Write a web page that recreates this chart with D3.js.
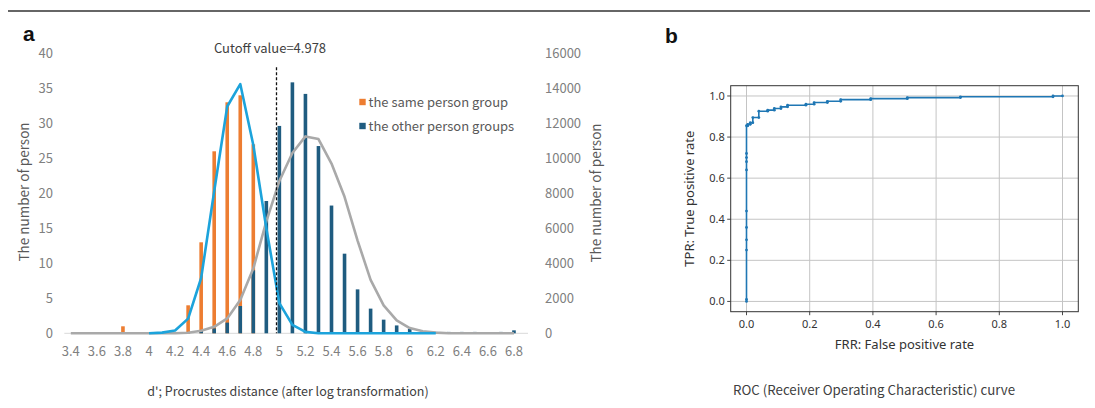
<!DOCTYPE html>
<html><head><meta charset="utf-8">
<script src="https://cdn.jsdelivr.net/npm/d3@7"></script>
<style>body{margin:0;background:#fff} svg{display:block}</style>
</head><body><svg id="c" width="1095" height="408"></svg>
<script>
// ---------- data (panel a) ----------
const categories = ["3.4","3.5","3.6","3.7","3.8","3.9","4","4.1","4.2","4.3","4.4","4.5","4.6","4.7","4.8","4.9","5","5.1","5.2","5.3","5.4","5.5","5.6","5.7","5.8","5.9","6","6.1","6.2","6.3","6.4","6.5","6.6","6.7","6.8"];
const sameGroup = [0,0,0,0,1,0,0,0,0,4,13,26,33,34,27,0,0,0,0,0,0,0,0,0,0,0,0,0,0,0,0,0,0,0,0];
const otherGroups = [0,0,0,0,0,0,0,0,0,40,150,280,610,1560,3600,7560,11850,14340,13680,10700,7300,4550,2510,1410,780,450,250,130,80,80,80,80,0,80,170];
const sameFit = [null,null,null,null,null,null,0,0.1,0.4,2.1,7.9,20.3,32.4,35.6,26.9,15,4.3,1.2,0.2,0,0,0,0,0,0,0,0,0,0,null,null,null,null,null,null];
const otherFit = [0,0,0,0,0,0,0,0,0,30,150,370,850,1900,3700,6400,8700,10300,11250,11100,9700,7800,5300,3050,1600,740,300,120,40,0,0,0,0,0,0];
const leftTicks = [0,5,10,15,20,25,30,35,40];
const rightTicks = [0,2000,4000,6000,8000,10000,12000,14000,16000];
const seriesNames = ["the same person group","the other person groups"];
const cutoff = 4.978;
// ---------- data (panel b) ----------
const rocFPR = [0,0,0,0,0,0,0,0,0,0,0,0.004,0.004,0.012,0.012,0.02,0.02,0.039,0.039,0.067,0.067,0.088,0.088,0.109,0.109,0.13,0.13,0.188,0.188,0.214,0.214,0.256,0.256,0.298,0.298,0.393,0.393,0.509,0.509,0.677,0.677,0.97,0.97,1.0];
const rocTPR = [0,0.01,0.25,0.30,0.36,0.44,0.64,0.68,0.70,0.72,0.855,0.855,0.862,0.862,0.870,0.870,0.895,0.895,0.926,0.926,0.931,0.931,0.939,0.939,0.947,0.947,0.955,0.955,0.960,0.960,0.968,0.968,0.974,0.974,0.982,0.982,0.987,0.987,0.992,0.992,0.996,0.996,1.0,1.0];
const rocTicks = [0,0.2,0.4,0.6,0.8,1.0];

const svg = d3.select("#c");
const fA = "'Noto Sans CJK JP','Noto Sans',sans-serif";
const fB = "'Noto Sans','DejaVu Sans',sans-serif";

// top rule
svg.append("line").attr("x1",8).attr("x2",1090).attr("y1",11).attr("y2",11).attr("stroke","#333").attr("stroke-width",1.4);
svg.append("text").attr("x",23).attr("y",41).text("a").attr("font-family","'Liberation Sans',Arial,sans-serif").attr("font-weight","bold").attr("font-size",21).attr("fill","#111");
svg.append("text").attr("x",665).attr("y",43).text("b").attr("font-family","'Liberation Sans',Arial,sans-serif").attr("font-weight","bold").attr("font-size",21).attr("fill","#111");

// ---------- panel a ----------
const x = d3.scaleBand().domain(categories).range([64.3,520.5]).paddingInner(0).paddingOuter(0);
const cx = c => x(c) + x.bandwidth()/2;
const yL = d3.scaleLinear().domain([0,40]).range([333.3,53.3]);
const yR = d3.scaleLinear().domain([0,16000]).range([333.3,53.3]);
const bw = 3.6;

svg.append("line").attr("x1",x.range()[0]).attr("x2",x.range()[1]+7.5).attr("y1",yL(0)).attr("y2",yL(0)).attr("stroke","#d9d9d9").attr("stroke-width",1);

svg.append("g").selectAll("rect").data(categories.map((c,i)=>({c,v:sameGroup[i]})).filter(d=>d.v>0))
  .join("rect").attr("x",d=>cx(d.c)-bw/2).attr("width",bw).attr("y",d=>yL(d.v)).attr("height",d=>yL(0)-yL(d.v)).attr("fill","#ed7d31");
svg.append("g").selectAll("rect").data(categories.map((c,i)=>({c,v:otherGroups[i]})).filter(d=>d.v>0))
  .join("rect").attr("x",d=>cx(d.c)-bw/2).attr("width",bw).attr("y",d=>yR(d.v)).attr("height",d=>yR(0)-yR(d.v)).attr("fill","#1f5c80");

const lineR = d3.line().x((d,i)=>cx(categories[i])).y(d=>yR(d));
svg.append("path").attr("d",lineR(otherFit)).attr("fill","none").attr("stroke","#a9a9a9").attr("stroke-width",2.6).attr("stroke-linejoin","round");
const lineL = d3.line().defined(d=>d!==null).x((d,i)=>cx(categories[i])).y(d=>yL(d));
svg.append("path").attr("d",lineL(sameFit)).attr("fill","none").attr("stroke","#1ca3db").attr("stroke-width",2.6).attr("stroke-linejoin","round");

const cutIdx = (cutoff - 3.4)/0.1;
const cutX = cx(categories[0]) + cutIdx*x.step();
svg.append("line").attr("x1",cutX).attr("x2",cutX).attr("y1",yL(38)).attr("y2",yL(0)).attr("stroke","#111").attr("stroke-width",1.3).attr("stroke-dasharray","3,2");
svg.append("text").attr("x",270).attr("y",53).attr("text-anchor","middle").text("Cutoff value=" + cutoff)
  .attr("font-family",fA).attr("font-size",13).attr("fill","#404040");

svg.append("g").selectAll("text").data(categories.filter((c,i)=>i%2===0)).join("text")
  .attr("x",d=>cx(d)).attr("y",355.5).attr("text-anchor","middle").text(d=>d)
  .attr("font-family",fA).attr("font-size",13).attr("fill","#808080");
svg.append("g").selectAll("text").data(leftTicks).join("text")
  .attr("x",53).attr("y",d=>yL(d)+4.5).attr("text-anchor","end").text(d=>d)
  .attr("font-family",fA).attr("font-size",13).attr("fill","#808080");
svg.append("g").selectAll("text").data(rightTicks).join("text")
  .attr("x",545).attr("y",d=>yR(d)+4.5).attr("text-anchor","start").text(d=>d)
  .attr("font-family",fA).attr("font-size",13).attr("fill","#808080");
svg.append("text").attr("transform","translate(29,192) rotate(-90)").attr("text-anchor","middle").text("The number of person")
  .attr("font-family",fA).attr("font-size",13.5).attr("fill","#595959");
svg.append("text").attr("transform","translate(601,193) rotate(-90)").attr("text-anchor","middle").text("The number of person")
  .attr("font-family",fA).attr("font-size",13.5).attr("fill","#595959");
svg.append("text").attr("x",288).attr("y",396).attr("text-anchor","middle").text("d'; Procrustes distance (after log transformation)")
  .attr("font-family",fA).attr("font-size",12.5).attr("fill","#404040");

const legColors = ["#ed7d31","#1f5c80"];
seriesNames.forEach((n,i)=>{
  const ly = 102 + i*24;
  svg.append("rect").attr("x",359.3).attr("y",ly-3.2).attr("width",6.4).attr("height",6.4).attr("fill",legColors[i]);
  svg.append("text").attr("x",368.5).attr("y",ly+4.5).text(n).attr("font-family",fA).attr("font-size",13).attr("fill","#595959");
});

// ---------- panel b ----------
const xr = d3.scaleLinear().domain([-0.05,1.05]).range([730.7,1078.3]);
const yr = d3.scaleLinear().domain([-0.05,1.05]).range([311.7,85.7]);
const gb = svg.append("g");
rocTicks.forEach(t=>{
  gb.append("line").attr("x1",xr(t)).attr("x2",xr(t)).attr("y1",yr(-0.05)).attr("y2",yr(1.05)).attr("stroke","#c4c4c4").attr("stroke-width",1);
  gb.append("line").attr("x1",xr(-0.05)).attr("x2",xr(1.05)).attr("y1",yr(t)).attr("y2",yr(t)).attr("stroke","#c4c4c4").attr("stroke-width",1);
  gb.append("line").attr("x1",xr(t)).attr("x2",xr(t)).attr("y1",yr(-0.05)).attr("y2",yr(-0.05)+3.5).attr("stroke","#333").attr("stroke-width",0.9);
  gb.append("line").attr("x1",xr(-0.05)-3.5).attr("x2",xr(-0.05)).attr("y1",yr(t)).attr("y2",yr(t)).attr("stroke","#333").attr("stroke-width",0.9);
  gb.append("text").attr("x",xr(t)).attr("y",yr(-0.05)+16.5).attr("text-anchor","middle").text(t.toFixed(1))
    .attr("font-family",fB).attr("font-size",11).attr("fill","#333");
  gb.append("text").attr("x",xr(-0.05)-6).attr("y",yr(t)+4).attr("text-anchor","end").text(t.toFixed(1))
    .attr("font-family",fB).attr("font-size",11).attr("fill","#333");
});
const rocPts = rocFPR.map((f,i)=>[f,rocTPR[i]]);
gb.append("path").attr("d",d3.line().x(d=>xr(d[0])).y(d=>yr(d[1]))(rocPts)).attr("fill","none").attr("stroke","#1f77b4").attr("stroke-width",1.6);
gb.selectAll("circle").data(rocPts).join("circle").attr("cx",d=>xr(d[0])).attr("cy",d=>yr(d[1])).attr("r",1.4).attr("fill","#1f77b4");
gb.append("rect").attr("x",xr(-0.05)).attr("y",yr(1.05)).attr("width",xr(1.05)-xr(-0.05)).attr("height",yr(-0.05)-yr(1.05))
  .attr("fill","none").attr("stroke","#333").attr("stroke-width",1);
gb.append("text").attr("x",xr(0.5)).attr("y",348.5).attr("text-anchor","middle").text("FRR: False positive rate")
  .attr("font-family",fB).attr("font-size",13).attr("fill","#333");
gb.append("text").attr("transform",`translate(694,${yr(0.5)}) rotate(-90)`).attr("text-anchor","middle").text("TPR: True positive rate")
  .attr("font-family",fB).attr("font-size",13).attr("fill","#333");
gb.append("text").attr("x",874).attr("y",395).attr("text-anchor","middle").text("ROC (Receiver Operating Characteristic) curve")
  .attr("font-family",fA).attr("font-size",13.3).attr("fill","#404040");
</script></body></html>
